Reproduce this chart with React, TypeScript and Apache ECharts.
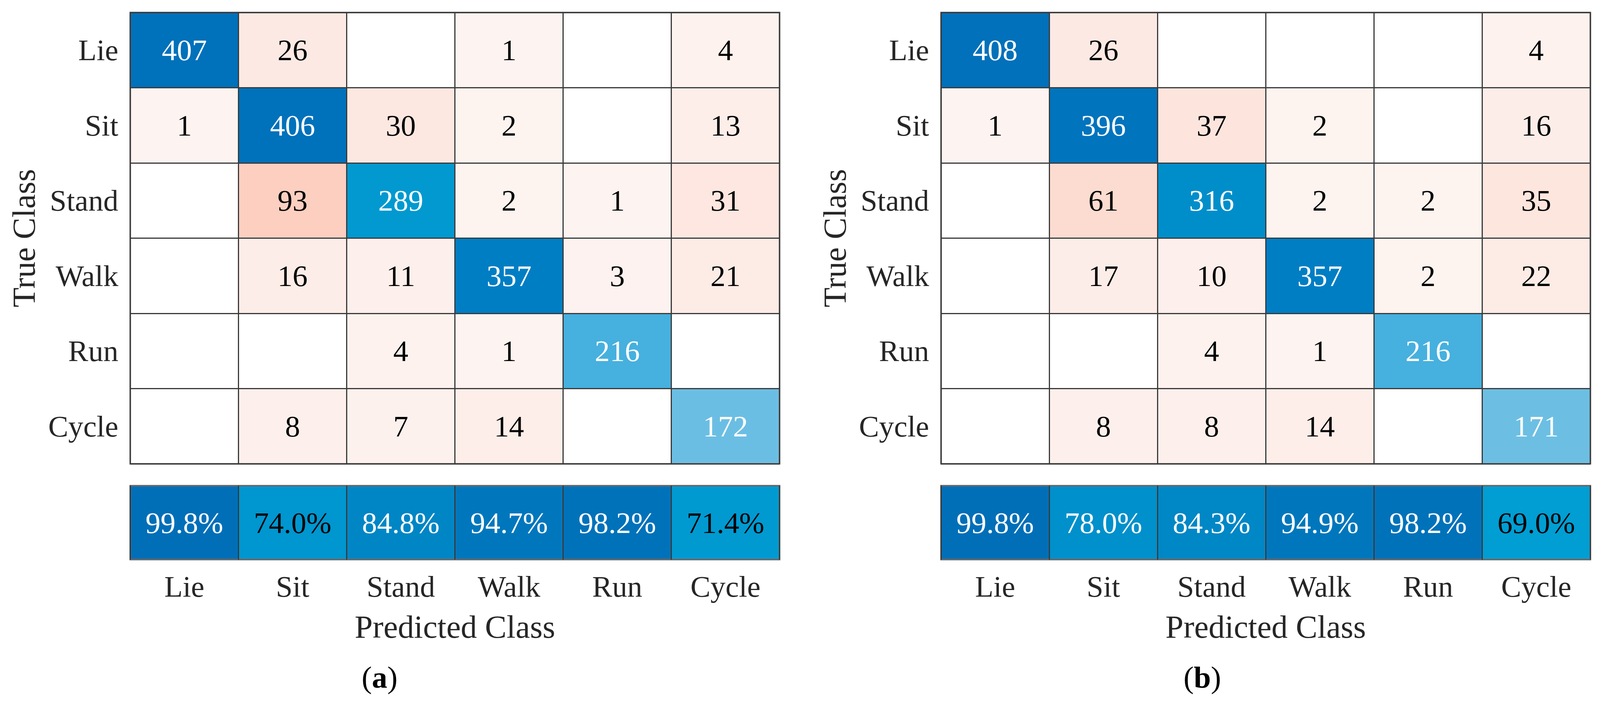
import React, { useEffect, useRef } from "react";
import * as echarts from "echarts";

const classes = ["Lie", "Sit", "Stand", "Walk", "Run", "Cycle"];

const matrixA = [
  [407, 26, 0, 1, 0, 4],
  [1, 406, 30, 2, 0, 13],
  [0, 93, 289, 2, 1, 31],
  [0, 16, 11, 357, 3, 21],
  [0, 0, 4, 1, 216, 0],
  [0, 8, 7, 14, 0, 172],
];
const accuracyA = [99.8, 74.0, 84.8, 94.7, 98.2, 71.4];

const matrixB = [
  [408, 26, 0, 0, 0, 4],
  [1, 396, 37, 2, 0, 16],
  [0, 61, 316, 2, 2, 35],
  [0, 17, 10, 357, 2, 22],
  [0, 0, 4, 1, 216, 0],
  [0, 8, 8, 14, 0, 171],
];
const accuracyB = [99.8, 78.0, 84.3, 94.9, 98.2, 69.0];

const panelLabels = ["a", "b"];
const yAxisName = "True Class";
const xAxisName = "Predicted Class";

const FONT = "Liberation Serif";
const REF_W = 4152;
const REF_H = 1794;

export default function App() {
  const ref = useRef<HTMLDivElement>(null);

  useEffect(() => {
    if (!ref.current) return;
    const chart = echarts.init(ref.current, null, { renderer: "svg" });
    const sx = chart.getWidth() / REF_W;
    const sy = chart.getHeight() / REF_H;
    const X = (v: number) => v * sx;
    const Y = (v: number) => v * sy;
    const F = (v: number) => v * Math.min(sx, sy);

    const panels = [
      { left: 338, matrix: matrixA, acc: accuracyA, tag: 985 },
      { left: 2442, matrix: matrixB, acc: accuracyB, tag: 3120 },
    ];
    const W = 1685;
    const matTop = 32;
    const matH = 1155;
    const accTop = 1243;
    const accH = 189;

    const grids: any[] = [];
    const xAxes: any[] = [];
    const yAxes: any[] = [];
    const series: any[] = [];
    const graphics: any[] = [];

    const split = { show: true, lineStyle: { color: "#3a3a3a", width: 3 } };
    const gridBorder = { show: true, borderColor: "#6a6a6a", borderWidth: 4, z: 10, backgroundColor: "transparent" };
    const tickStyle = { fontSize: F(78), fontFamily: FONT, color: "#262626" };
    const nameStyle = { fontSize: F(84), fontFamily: FONT, color: "#262626" };

    panels.forEach((p, pi) => {
      const gMat = grids.length;
      grids.push({ left: X(p.left), top: Y(matTop), width: X(W), height: Y(matH), ...gridBorder });
      const gAcc = grids.length;
      grids.push({ left: X(p.left), top: Y(accTop), width: X(W), height: Y(accH), ...gridBorder });

      xAxes.push({
        type: "category",
        gridIndex: gMat,
        data: classes,
        axisLabel: { show: false },
        axisTick: { show: false },
        axisLine: { show: false },
        splitLine: split,
        z: 10,
      });
      yAxes.push({
        type: "category",
        gridIndex: gMat,
        data: classes,
        inverse: true,
        axisLabel: { ...tickStyle, margin: X(31) },
        axisTick: { show: false },
        axisLine: { show: false },
        splitLine: split,
        name: yAxisName,
        nameLocation: "middle",
        nameGap: X(234),
        nameRotate: 90,
        nameTextStyle: nameStyle,
        z: 10,
      });
      xAxes.push({
        type: "category",
        gridIndex: gAcc,
        data: classes,
        position: "bottom",
        axisLabel: { ...tickStyle, margin: Y(30) },
        axisTick: { show: false },
        axisLine: { show: false },
        splitLine: split,
        name: xAxisName,
        nameLocation: "middle",
        nameGap: Y(130),
        nameTextStyle: nameStyle,
        z: 10,
      });
      yAxes.push({
        type: "category",
        gridIndex: gAcc,
        data: [""],
        axisLabel: { show: false },
        axisTick: { show: false },
        axisLine: { show: false },
        splitLine: { show: false },
        z: 10,
      });

      const cellLabel = (color: string) => ({ color, fontFamily: FONT, fontSize: F(78) });
      const diag: any[] = [];
      const off: any[] = [];
      p.matrix.forEach((row, r) => {
        row.forEach((v, c) => {
          if (v <= 0) return;
          if (r === c) diag.push({ value: [c, r, v], label: cellLabel("#ffffff") });
          else off.push({ value: [c, r, v], label: cellLabel("#000000") });
        });
      });
      const accData = p.acc.map((v, c) => ({
        value: [c, 0, v],
        label: cellLabel(v < 76 ? "#000000" : "#ffffff"),
      }));

      const labelBase = { show: true, fontSize: F(78), fontFamily: FONT };
      series.push({
        type: "heatmap",
        xAxisIndex: pi * 2,
        yAxisIndex: pi * 2,
        data: diag,
        label: { ...labelBase, formatter: (d: any) => String(d.value[2]) },
        emphasis: { disabled: true },
      });
      series.push({
        type: "heatmap",
        xAxisIndex: pi * 2,
        yAxisIndex: pi * 2,
        data: off,
        label: { ...labelBase, formatter: (d: any) => String(d.value[2]) },
        emphasis: { disabled: true },
      });
      series.push({
        type: "heatmap",
        xAxisIndex: pi * 2 + 1,
        yAxisIndex: pi * 2 + 1,
        data: accData,
        label: { ...labelBase, formatter: (d: any) => d.value[2].toFixed(1) + "%" },
        emphasis: { disabled: true },
      });

      graphics.push({
        type: "text",
        x: X(p.tag),
        y: Y(1733),
        style: {
          text: "{p|(}{b|" + panelLabels[pi] + "}{p|)}",
          align: "center",
          verticalAlign: "middle",
          rich: {
            p: { fontSize: F(80), fontFamily: FONT, fill: "#000" },
            b: { fontSize: F(80), fontFamily: FONT, fontWeight: "bold", fill: "#000" },
          },
        },
      });
    });

    const option: any = {
      animation: false,
      backgroundColor: "#ffffff",
      textStyle: { fontFamily: FONT },
      grid: grids,
      xAxis: xAxes,
      yAxis: yAxes,
      visualMap: [
        {
          type: "continuous",
          show: false,
          seriesIndex: [0, 3],
          dimension: 2,
          min: 170,
          max: 410,
          inRange: { color: ["#6DBFE3", "#3AACDC", "#0099D0", "#0080C5", "#0070BA"] },
        },
        {
          type: "continuous",
          show: false,
          seriesIndex: [1, 4],
          dimension: 2,
          min: 1,
          max: 93,
          inRange: { color: ["#FDF3F0", "#FCCFC0"] },
        },
        {
          type: "continuous",
          show: false,
          seriesIndex: [2, 5],
          dimension: 2,
          min: 69,
          max: 100,
          inRange: { color: ["#009ED3", "#006FB8"] },
        },
      ],
      series,
      graphic: graphics,
    };

    chart.setOption(option);
    return () => chart.dispose();
  }, []);

  return (
    <div
      ref={ref}
      style={{ position: "fixed", left: 0, top: 0, width: "100vw", height: "100vh", background: "#fff" }}
    />
  );
}
